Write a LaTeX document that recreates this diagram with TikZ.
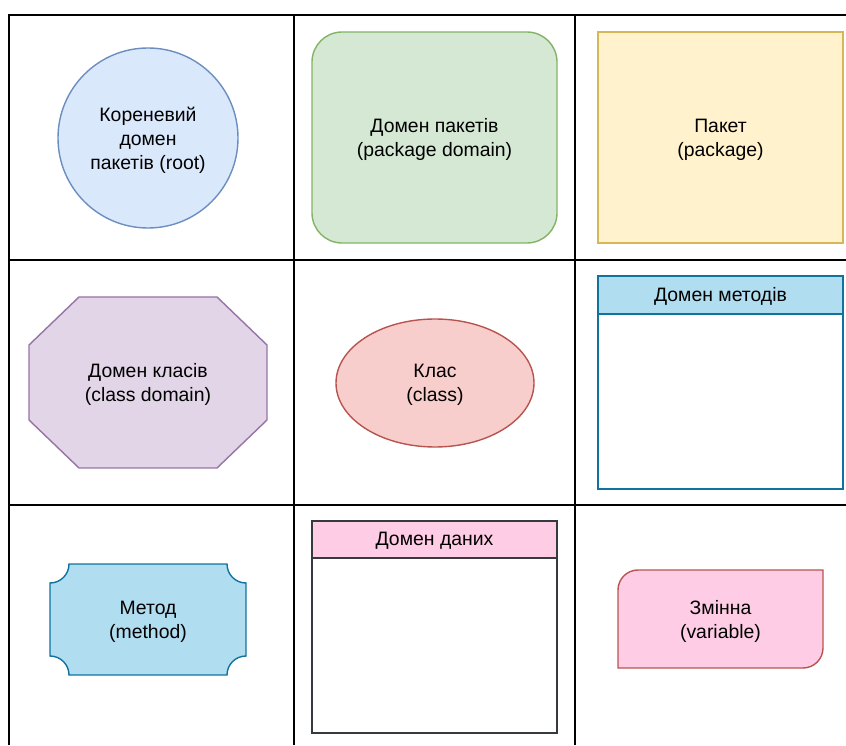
\documentclass[tikz,border=0pt]{standalone}
\usepackage{fontspec}
\setmainfont{Liberation Sans}
\begin{document}
\definecolor{blueF}{HTML}{DAE8FC}\definecolor{blueS}{HTML}{6C8EBF}
\definecolor{greenF}{HTML}{D5E8D4}\definecolor{greenS}{HTML}{82B366}
\definecolor{yellowF}{HTML}{FFF2CC}\definecolor{yellowS}{HTML}{D6B656}
\definecolor{purpleF}{HTML}{E1D5E7}\definecolor{purpleS}{HTML}{9673A6}
\definecolor{redF}{HTML}{F8CECC}\definecolor{redS}{HTML}{B85450}
\definecolor{cyanF}{HTML}{B1DDF0}\definecolor{cyanS}{HTML}{10739E}
\definecolor{pinkF}{HTML}{FFCCE6}\definecolor{darkS}{HTML}{36393D}
\begin{tikzpicture}[x=1pt,y=1pt,
  grid/.style={line width=2pt,black},
  outline/.style={line width=1.4pt},
  label/.style={align=center,font=\fontsize{19.4}{24}\selectfont,inner sep=0pt}]
\useasboundingbox (0,0) rectangle (846,745);
% table grid
\draw[grid] (9,0) -- (9,730) -- (846,730);
\draw[grid] (9,485) -- (846,485);
\draw[grid] (9,240) -- (846,240);
\draw[grid] (294,0) -- (294,730);
\draw[grid] (575,0) -- (575,730);
% row 1
\draw[outline,fill=blueF,draw=blueS] (148,607) circle[radius=90];
\node[label] (root) at (148,605) {Кореневий\\домен\\пакетів (root)};
\draw[outline,fill=greenF,draw=greenS,rounded corners=30pt] (312,502) rectangle (557,713);
\node[label] (pkgdom) at (434.5,605.5) {Домен пакетів\\(package domain)};
\draw[outline,fill=yellowF,draw=yellowS] (598,502) rectangle (843,713);
\node[label] (pkg) at (720.5,605.5) {Пакет\\(package)};
% row 2
\draw[outline,fill=purpleF,draw=purpleS] (79,448) -- (217,448) -- (267,400) -- (267,325)
  -- (217,277) -- (79,277) -- (29,325) -- (29,400) -- cycle;
\node[label] (clsdom) at (148,360.5) {Домен класів\\(class domain)};
\draw[outline,fill=redF,draw=redS] (435,362) ellipse[x radius=99,y radius=64];
\node[label] (cls) at (435,360.5) {Клас\\(class)};
\draw[outline,fill=white,draw=cyanS] (598,256) rectangle (843,469);
\draw[outline,fill=cyanF,draw=cyanS] (598,431) rectangle (843,469);
\node[label] (methdom) at (720.5,448.5) {Домен методів};
% row 3
\draw[outline,fill=cyanF,draw=cyanS] (69,181) -- (227,181) arc[start angle=180,end angle=270,radius=19]
  -- (246,89) arc[start angle=90,end angle=180,radius=19]
  -- (69,70) arc[start angle=0,end angle=90,radius=19]
  -- (50,162) arc[start angle=270,end angle=360,radius=19] -- cycle;
\node[label] (meth) at (148,123.5) {Метод\\(method)};
\draw[outline,fill=white,draw=darkS] (312,12) rectangle (557,224);
\draw[outline,fill=pinkF,draw=darkS] (312,187) rectangle (557,224);
\node[label] (datadom) at (434.5,204) {Домен даних};
\draw[outline,fill=pinkF,draw=redS] (618,77) -- (618,155) arc[start angle=180,end angle=90,radius=20]
  -- (823,175) -- (823,97) arc[start angle=0,end angle=-90,radius=20] -- cycle;
\node[label] (var) at (720.5,124) {Змінна\\(variable)};
\end{tikzpicture}
\end{document}
